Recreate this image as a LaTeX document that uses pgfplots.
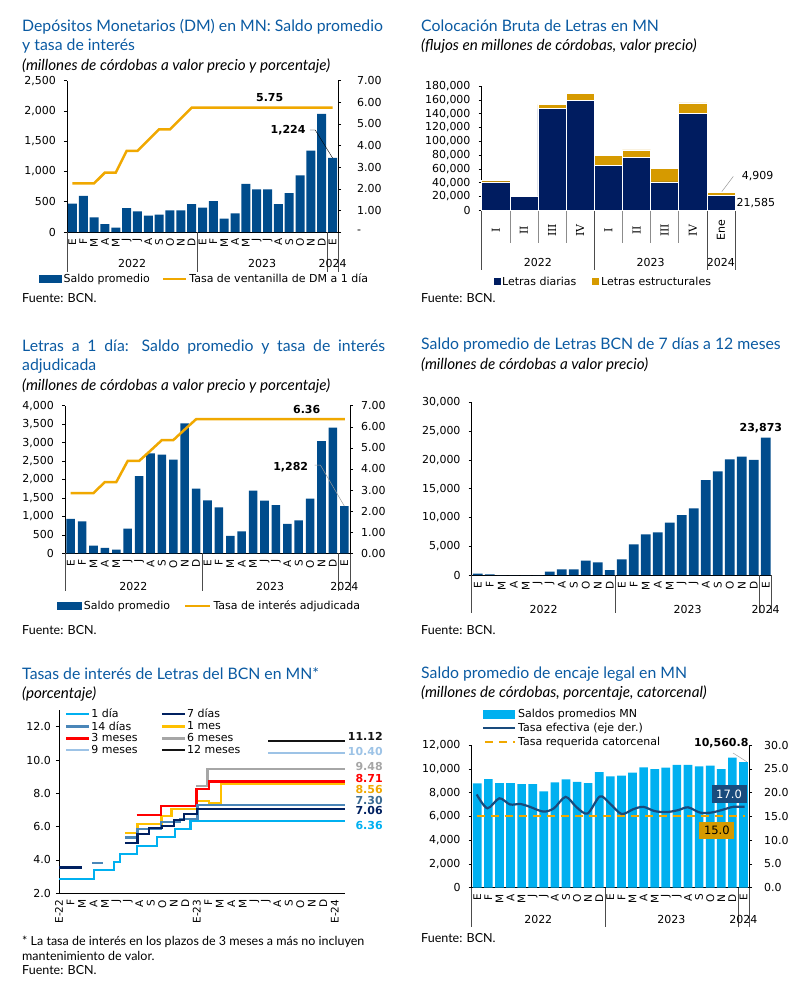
\documentclass[border=0pt]{standalone}
\usepackage{fontspec}
\setmainfont{Lato}
\newfontfamily\vf{DejaVu Sans}
\newfontfamily\vsf{DejaVu Serif}
\usepackage{pgfplots}
\pgfplotsset{compat=1.18}

\definecolor{titleblue}{RGB}{10,90,162}
\definecolor{barb}{RGB}{0,76,140}
\definecolor{gold}{RGB}{240,168,0}
\definecolor{navy}{RGB}{0,28,96}
\definecolor{ocre}{RGB}{214,154,0}
\definecolor{cyanb}{RGB}{0,176,240}
\definecolor{effl}{RGB}{25,75,125}
\definecolor{cA}{RGB}{0,176,240}
\definecolor{cB}{RGB}{0,32,96}
\definecolor{cC}{RGB}{74,134,184}
\definecolor{cD}{RGB}{255,192,0}
\definecolor{cE}{RGB}{255,0,0}
\definecolor{cF}{RGB}{166,166,166}
\definecolor{cG}{RGB}{157,195,230}
\definecolor{cH}{RGB}{20,20,20}

\tikzset{
  ttl/.style={anchor=base west, inner sep=0pt, text=titleblue, font=\fontsize{15.8}{18}\selectfont},
  sub/.style={anchor=base west, inner sep=0pt, font=\itshape\fontsize{15.2}{17}\selectfont},
  src/.style={anchor=base west, inner sep=0pt, font=\fontsize{12.5}{14}\selectfont},
  lbl/.style={inner sep=0pt, font=\vf\bfseries\fontsize{11}{12}\selectfont},
  sep/.style={draw=black!70, line width=0.6pt},
  sepl/.style={draw=black!45, line width=0.6pt},
  yr/.style={anchor=base, inner sep=0pt, font=\vf\fontsize{11}{12}\selectfont},
}

\pgfplotsset{
  base/.style={scale only axis, clip=false, anchor=south west, enlargelimits=false,
    scaled ticks=false, axis line style={line width=0.6pt}, major tick length=3pt,
    tick align=outside, tick style={black, line width=0.5pt},
    ticklabel style={font=\vf\fontsize{11}{12}\selectfont},
    y tick label style={inner xsep=8pt},
    /pgf/number format/assume math mode=true, /pgf/number format/fixed,
    /pgf/number format/1000 sep={,}},
  months/.style={xmin=-0.5, xmax=24.5, xtick={0,...,24},
    xticklabels={E,F,M,A,M,J,J,A,S,O,N,D,E,F,M,A,M,J,J,A,S,O,N,D,E},
    x tick label style={rotate=90, anchor=east, font=\vf\fontsize{10.5}{11}\selectfont},
    xtick style={draw=none}},
  leg/.style={legend cell align=left,
    legend style={draw=none, fill=none, font=\vf\fontsize{11}{12}\selectfont}},
  pct2/.style={yticklabel style={/pgf/number format/fixed, /pgf/number format/fixed zerofill, /pgf/number format/precision=2}},
  pct1/.style={yticklabel style={/pgf/number format/fixed, /pgf/number format/fixed zerofill, /pgf/number format/precision=1}},
}

\begin{document}
\begin{tikzpicture}
\path[use as bounding box] (0pt,0pt) rectangle (794pt,-993pt);

\begin{scope}[x=1pt, y=-1pt]
% panel texts
\node[ttl] at (22,31) {Depósitos Monetarios (DM) en MN: Saldo promedio};
\node[ttl] at (22,50.7) {y tasa de interés};
\node[sub] at (22,70.7) {(millones de córdobas a valor precio y porcentaje)};
\node[src] at (22,302) {Fuente: BCN.};

\node[ttl] at (421,31) {Colocación Bruta de Letras en MN};
\node[sub] at (421,50) {(flujos en millones de córdobas, valor precio)};
\node[src] at (421,302) {Fuente: BCN.};

\node[ttl] at (22,351) {\makebox[363pt][s]{Letras a 1 día: Saldo promedio y tasa de interés}};
\node[ttl] at (22,370) {adjudicada};
\node[sub] at (22,390) {(millones de córdobas a valor precio y porcentaje)};
\node[src] at (22,634) {Fuente: BCN.};

\node[ttl] at (421,349) {Saldo promedio de Letras BCN de 7 días a 12 meses};
\node[sub] at (421,369) {(millones de córdobas a valor precio)};
\node[src] at (421,634) {Fuente: BCN.};

\node[ttl] at (22,679) {Tasas de interés de Letras del BCN en MN*};
\node[sub] at (22,698) {(porcentaje)};
\node[src] at (22,945) {* La tasa de interés en los plazos de 3 meses a más no incluyen};
\node[src] at (22,960) {mantenimiento de valor.};
\node[src] at (22,974) {Fuente: BCN.};

\node[ttl] at (421,678) {Saldo promedio de encaje legal en MN};
\node[sub] at (421,697) {(millones de córdobas, porcentaje, catorcenal)};
\node[src] at (421,942) {Fuente: BCN.};
\end{scope}

% ---------- Panel 1: Depositos monetarios
\begin{axis}[base, months, leg, at={(67pt,-232pt)}, width=271pt, height=151.3pt,
  ymin=0, ymax=2500, ytick={0,500,...,2500},
  axis x line*=bottom, axis y line*=left, ybar, bar width=0.83,
  legend columns=2,
  legend style={at={(0.507,-0.31)}, anchor=center, /tikz/every even column/.append style={column sep=10pt}}]
\addplot[fill=barb, draw=none, legend image code/.code={\fill[barb] (0pt,-4pt) rectangle (23pt,4pt);}]
  coordinates {(0,467)(1,599)(2,242)(3,132)(4,71)(5,396)(6,341)(7,269)(8,286)(9,357)(10,357)(11,462)
  (12,401)(13,511)(14,220)(15,308)(16,797)(17,703)(18,703)(19,462)(20,643)(21,934)(22,1346)(23,1951)(24,1224)};
\addlegendentry{Saldo promedio}
\addlegendimage{legend image code/.code={\draw[gold, line width=2.5pt] (0pt,0pt) -- (23pt,0pt);}}
\addlegendentry{Tasa de ventanilla de DM a 1 día}
\draw[sep] (axis cs:-0.5,0) -- ++(0pt,-40pt);
\draw[sep] (axis cs:11.5,0) -- ++(0pt,-40pt);
\draw[sep] (axis cs:23.5,0) -- ++(0pt,-40pt);
\draw[sep] (axis cs:24.5,0) -- ++(0pt,-40pt);
\node[yr] at ([yshift=-35pt]axis cs:5.5,0) {2022};
\node[yr] at ([yshift=-35pt]axis cs:17.5,0) {2023};
\node[yr] at ([yshift=-35pt]axis cs:24,0) {2024};
\node[lbl] at (axis cs:19.9,1685) {1,224};
\draw[black, line width=0.4pt] (axis cs:21.9,1685) -- (axis cs:22.4,1685) -- (axis cs:24,1224);
\end{axis}
\begin{axis}[base, at={(67pt,-232pt)}, width=271pt, height=151.3pt,
  xmin=-0.5, xmax=24.5, ymin=0, ymax=7, ytick={0,...,7},
  yticklabels={-,1.00,2.00,3.00,4.00,5.00,6.00,7.00},
  y tick label style={xshift=8pt},
  axis y line*=right, axis x line=none]
\addplot[gold, line width=2.5pt] coordinates {(0,2.25)(1,2.25)(2,2.25)(3,2.75)(4,2.75)(5,3.75)(6,3.75)(7,4.25)
  (8,4.75)(9,4.75)(10,5.25)(11,5.75)(12,5.75)(13,5.75)(14,5.75)(15,5.75)(16,5.75)(17,5.75)(18,5.75)
  (19,5.75)(20,5.75)(21,5.75)(22,5.75)(23,5.75)(24,5.75)};
\node[lbl] at (axis cs:18.2,6.21) {5.75};
\end{axis}

% ---------- Panel 2: Colocacion bruta
\begin{axis}[base, leg, at={(481.7pt,-210.3pt)}, width=253.3pt, height=124.3pt,
  xmin=-0.5, xmax=8.5, ymin=0, ymax=180000, ytick={0,20000,...,180000},
  axis x line*=bottom, axis y line*=left, ybar stacked, bar width=1,
  xtick={0,...,8}, xtick style={draw=none},
  xticklabels={{\vsf I},{\vsf II},{\vsf III},{\vsf IV},{\vsf I},{\vsf II},{\vsf III},{\vsf IV},Ene},
  x tick label style={yshift=-17pt, rotate=90, anchor=center, font=\vf\fontsize{11}{12}\selectfont},
  legend columns=2,
  legend style={at={(0.48,-0.574)}, anchor=center, /tikz/every even column/.append style={column sep=14pt}}]
\addplot[fill=navy, draw=white, line width=0.6pt, legend image code/.code={\fill[navy] (0pt,-3pt) rectangle (6pt,3pt);}]
  coordinates {(0,41000)(1,19800)(2,147200)(3,158800)(4,65200)(5,76700)(6,41000)(7,140400)(8,21585)};
\addlegendentry{Letras diarias}
\addplot[fill=ocre, draw=white, line width=0.6pt, legend image code/.code={\fill[ocre] (0pt,-3pt) rectangle (6pt,3pt);}]
  coordinates {(0,2400)(1,0)(2,6300)(3,10600)(4,14400)(5,10700)(6,19800)(7,15000)(8,4909)};
\addlegendentry{Letras estructurales}
\draw[sepl] (axis cs:0.5,0) -- ++(0pt,-33pt);
\draw[sepl] (axis cs:1.5,0) -- ++(0pt,-33pt);
\draw[sepl] (axis cs:2.5,0) -- ++(0pt,-33pt);
\draw[sepl] (axis cs:4.5,0) -- ++(0pt,-33pt);
\draw[sepl] (axis cs:5.5,0) -- ++(0pt,-33pt);
\draw[sepl] (axis cs:6.5,0) -- ++(0pt,-33pt);
\draw[sep] (axis cs:-0.5,0) -- ++(0pt,-60pt);
\draw[sep] (axis cs:3.5,0) -- ++(0pt,-60pt);
\draw[sep] (axis cs:7.5,0) -- ++(0pt,-60pt);
\draw[sep] (axis cs:8.5,0) -- ++(0pt,-60pt);
\node[yr] at ([yshift=-56pt]axis cs:1.5,0) {2022};
\node[yr] at ([yshift=-56pt]axis cs:5.5,0) {2023};
\node[yr] at ([yshift=-56pt]axis cs:8,0) {2024};
\node[inner sep=0pt, font=\vf\fontsize{11}{12}\selectfont] at (axis cs:9.3,49670) {4,909};
\draw[black!40, line width=0.5pt] (axis cs:8.03,26935) -- (axis cs:8.44,49090);
\node[inner sep=0pt, font=\vf\fontsize{11}{12}\selectfont] at (axis cs:9.24,11000) {21,585};
\end{axis}

% ---------- Panel 3: Letras a 1 dia
\begin{axis}[base, months, leg, at={(65pt,-553.3pt)}, width=285pt, height=147.6pt,
  ymin=0, ymax=4000, ytick={0,500,...,4000},
  axis x line*=bottom, axis y line*=left, ybar, bar width=0.75,
  legend columns=2,
  legend style={at={(0.507,-0.357)}, anchor=center, /tikz/every even column/.append style={column sep=12pt}}]
\addplot[fill=barb, draw=none, legend image code/.code={\fill[barb] (0pt,-4pt) rectangle (25pt,4pt);}]
  coordinates {(0,935)(1,867)(2,208)(3,144)(4,100)(5,668)(6,2095)(7,2709)(8,2673)(9,2537)(10,3521)(11,1752)
  (12,1436)(13,1246)(14,470)(15,596)(16,1698)(17,1427)(18,1309)(19,795)(20,894)(21,1481)(22,3043)(23,3404)(24,1282)};
\addlegendentry{Saldo promedio}
\addlegendimage{legend image code/.code={\draw[gold, line width=2.5pt] (0pt,0pt) -- (25pt,0pt);}}
\addlegendentry{Tasa de interés adjudicada}
\draw[sep] (axis cs:-0.5,0) -- ++(0pt,-38pt);
\draw[sep] (axis cs:11.5,0) -- ++(0pt,-38pt);
\draw[sep] (axis cs:23.5,0) -- ++(0pt,-38pt);
\draw[sep] (axis cs:24.5,0) -- ++(0pt,-38pt);
\node[yr] at ([yshift=-37pt]axis cs:5.5,0) {2022};
\node[yr] at ([yshift=-37pt]axis cs:17.5,0) {2023};
\node[yr] at ([yshift=-37pt]axis cs:24,0) {2024};
\node[lbl] at (axis cs:19.3,2347) {1,282};
\draw[black!40, line width=0.5pt] (axis cs:21.4,2393) -- (axis cs:21.9,2393) -- (axis cs:24,1282);
\end{axis}
\begin{axis}[base, pct2, at={(65pt,-553.3pt)}, width=285pt, height=147.6pt,
  xmin=-0.5, xmax=24.5, ymin=0, ymax=7, ytick={0,...,7},
  axis y line*=right, axis x line=none]
\addplot[gold, line width=2.5pt] coordinates {(0,2.86)(1,2.86)(2,2.86)(3,3.38)(4,3.38)(5,4.38)(6,4.38)(7,4.87)
  (8,5.37)(9,5.37)(10,5.87)(11,6.36)(12,6.36)(13,6.36)(14,6.36)(15,6.36)(16,6.36)(17,6.36)(18,6.36)
  (19,6.36)(20,6.36)(21,6.36)(22,6.36)(23,6.36)(24.06,6.36)};
\node[lbl] at (axis cs:20.7,6.80) {6.36};
\end{axis}

% ---------- Panel 4: Letras 7 dias a 12 meses
\begin{axis}[base, months, at={(471.7pt,-575pt)}, width=300pt, height=172.7pt,
  ymin=0, ymax=30000, ytick={0,5000,...,30000},
  axis x line*=bottom, axis y line*=left, ybar, bar width=0.8]
\addplot[fill=barb, draw=none]
  coordinates {(0,230)(1,100)(2,0)(3,0)(4,0)(5,0)(6,580)(7,985)(8,985)(9,2490)(10,2200)(11,870)
  (12,2720)(13,5330)(14,7065)(15,7410)(16,9090)(17,10420)(18,11580)(19,16500)(20,18010)(21,20090)(22,20560)(23,19980)(24,23873)};
\draw[sep] (axis cs:-0.5,0) -- ++(0pt,-38pt);
\draw[sep] (axis cs:11.5,0) -- ++(0pt,-38pt);
\draw[sep] (axis cs:23.5,0) -- ++(0pt,-38pt);
\draw[sep] (axis cs:24.5,0) -- ++(0pt,-38pt);
\node[yr] at ([yshift=-38pt]axis cs:5.5,0) {2022};
\node[yr] at ([yshift=-38pt]axis cs:17.5,0) {2023};
\node[yr] at ([yshift=-38pt]axis cs:24,0) {2024};
\node[lbl] at (axis cs:23.6,25588) {23,873};
\end{axis}

% ---------- Panel 5: Tasas de Letras
\begin{axis}[base, pct1, at={(59pt,-893.3pt)}, width=286pt, height=183.3pt,
  xmin=0, xmax=24.9, ymin=2, ymax=13, ytick={2,4,...,12},
  y tick label style={inner xsep=5pt},
  axis x line*=bottom, axis y line*=left,
  xtick={0,...,24}, xtick style={draw=none},
  xticklabels={E-22,F,M,A,M,J,J,A,S,O,N,D,E-23,F,M,A,M,J,J,A,S,O,N,D,E-24},
  x tick label style={rotate=90, anchor=east, font=\vf\fontsize{10.5}{11}\selectfont},
  leg, legend columns=2,
  legend style={at={(0.02,1.012)}, anchor=north west, inner sep=0pt,
    nodes={inner sep=1pt}, /tikz/every even column/.append style={column sep=22pt}}]
\addlegendimage{legend image code/.code={\draw[cA, line width=2.5pt] (0pt,0pt) -- (23pt,0pt);}}
\addlegendimage{legend image code/.code={\draw[cB, line width=2.5pt] (0pt,0pt) -- (23pt,0pt);}}
\addlegendimage{legend image code/.code={\draw[cC, line width=2.5pt] (0pt,0pt) -- (23pt,0pt);}}
\addlegendimage{legend image code/.code={\draw[cD, line width=2.5pt] (0pt,0pt) -- (23pt,0pt);}}
\addlegendimage{legend image code/.code={\draw[cE, line width=2.5pt] (0pt,0pt) -- (23pt,0pt);}}
\addlegendimage{legend image code/.code={\draw[cF, line width=2.5pt] (0pt,0pt) -- (23pt,0pt);}}
\addlegendimage{legend image code/.code={\draw[cG, line width=2.5pt] (0pt,0pt) -- (23pt,0pt);}}
\addlegendimage{legend image code/.code={\draw[cH, line width=2.5pt] (0pt,0pt) -- (23pt,0pt);}}
\legend{1 día,7 días,14 días,1 mes,3 meses,6 meses,9 meses,12 meses}
\addplot[forget plot, cG, line width=2.2pt] coordinates {(18.2,10.40)(24.9,10.40)};
\addplot[forget plot, cH, line width=2.2pt] coordinates {(18.2,11.12)(24.9,11.12)};
\addplot[forget plot, cF, line width=2.2pt, const plot mark left] coordinates {(11.97,8.46)(12.93,9.48)(24.9,9.48)};
\addplot[forget plot, cD, line width=2.2pt, const plot mark left] coordinates {(5.74,5.64)(6.84,6.14)(8.93,6.64)(9.8,7.04)(12.0,7.56)(13.04,7.44)(14.09,8.56)(24.9,8.56)};
\addplot[forget plot, cE, line width=2.2pt, const plot mark left] coordinates {(6.76,6.72)(8.9,7.24)(11.97,8.24)(13.04,8.71)(24.9,8.71)};
\addplot[forget plot, cC, line width=2.2pt] coordinates {(2.9,3.83)(3.85,3.83)};
\addplot[forget plot, cC, line width=2.2pt, const plot mark left] coordinates {(5.74,5.35)(6.84,5.85)(8.9,6.3)(10.5,6.45)(12.05,7.30)(24.9,7.30)};
\addplot[forget plot, cB, line width=2.2pt] coordinates {(0,3.55)(2.03,3.55)};
\addplot[forget plot, cB, line width=2.2pt, const plot mark left] coordinates {(5.74,5.04)(6.84,5.54)(7.85,5.9)(9.0,6.05)(10.0,6.4)(10.9,6.75)(12.0,7.06)(24.9,7.06)};
\addplot[forget plot, cA, line width=2.2pt, const plot mark left] coordinates {(0,2.86)(3.04,3.38)(4.8,3.88)(5.3,4.36)(6.76,4.86)(8.5,5.36)(10.09,5.86)(11.45,6.36)(24.9,6.36)};
\node[lbl, anchor=east, text=cH] at (axis cs:28.2,11.4) {11.12};
\node[lbl, anchor=east, text=cG] at (axis cs:28.2,10.5) {10.40};
\node[lbl, anchor=east, text=cF] at (axis cs:28.2,9.6) {9.48};
\node[lbl, anchor=east, text=cE] at (axis cs:28.2,8.9) {8.71};
\node[lbl, anchor=east, text=gold] at (axis cs:28.2,8.24) {8.56};
\node[lbl, anchor=east, text=cC!80!black] at (axis cs:28.2,7.56) {7.30};
\node[lbl, anchor=east, text=cB] at (axis cs:28.2,6.94) {7.06};
\node[lbl, anchor=east, text=cA] at (axis cs:28.2,6.06) {6.36};
\end{axis}

% ---------- Panel 6: Encaje legal
\begin{axis}[base, months, leg, at={(471.7pt,-887.7pt)}, width=277.3pt, height=142.7pt,
  ymin=0, ymax=12000, ytick={0,2000,...,12000},
  axis x line*=bottom, axis y line*=left, ybar, bar width=0.78,
  legend style={at={(0.036,1.265)}, anchor=north west, inner sep=0pt, nodes={inner sep=2pt}}]
\addplot[fill=cyanb, draw=none, legend image code/.code={\fill[cyanb] (0pt,-4.5pt) rectangle (32pt,4.5pt);}]
  coordinates {(0,8775)(1,9140)(2,8800)(3,8800)(4,8720)(5,8720)(6,8100)(7,8860)(8,9110)(9,8890)(10,8800)(11,9730)
  (12,9365)(13,9420)(14,9670)(15,10120)(16,9980)(17,10090)(18,10320)(19,10320)(20,10200)(21,10260)(22,9980)(23,10930)(24,10560.8)};
\addlegendentry{Saldos promedios MN}
\addlegendimage{legend image code/.code={\draw[effl, line width=2.3pt] (0pt,0pt) -- (32pt,0pt);}}
\addlegendentry{Tasa efectiva (eje der.)}
\addlegendimage{legend image code/.code={\draw[gold, line width=2.3pt, dash pattern=on 8pt off 6pt] (2pt,0pt) -- (32pt,0pt);}}
\addlegendentry{Tasa requerida catorcenal}
\draw[sep] (axis cs:-0.5,0) -- ++(0pt,-39pt);
\draw[sep] (axis cs:11.5,0) -- ++(0pt,-39pt);
\draw[sep] (axis cs:23.5,0) -- ++(0pt,-39pt);
\draw[sep] (axis cs:24.5,0) -- ++(0pt,-39pt);
\node[yr] at ([yshift=-36pt]axis cs:5.5,0) {2022};
\node[yr] at ([yshift=-36pt]axis cs:17.5,0) {2023};
\node[yr] at ([yshift=-36pt]axis cs:24,0) {2024};
\node[lbl] at (axis cs:22.0,12193) {10,560.8};
\draw[black!35, line width=0.5pt] (axis cs:23.06,11327) -- (axis cs:24.3,10595);
\end{axis}
\begin{axis}[base, pct1, at={(471.7pt,-887.7pt)}, width=277.3pt, height=142.7pt,
  xmin=-0.5, xmax=24.5, ymin=0, ymax=30, ytick={0,5,...,30},
  y tick label style={xshift=4pt},
  axis y line*=right, axis x line=none]
\addplot[gold, line width=2.2pt, dash pattern=on 8pt off 6pt] coordinates {(-0.05,15)(24.1,15)};
\addplot[effl, line width=2.2pt, smooth, tension=0.5] coordinates {(-0.05,19.6)(0.91,16.7)(1.99,18.8)(2.95,17.5)(3.91,17.6)(4.75,17.0)
  (5.96,16.0)(6.92,16.7)(7.97,19.1)(8.96,16.9)(9.95,15.6)(11.06,19.2)(11.96,17.7)(13.01,15.5)(14.06,16.5)(14.97,17.0)
  (16.0,16.1)(17.07,15.9)(18.1,16.3)(19.0,16.9)(20.07,15.8)(21.1,15.8)(22.0,16.3)(23.07,17.0)(24.1,17.0)};
\node[fill=effl, text=white, inner sep=0pt, minimum width=35pt, minimum height=18pt, font=\vf\fontsize{11.5}{12}\selectfont] at (axis cs:22.7,19.7) {17.0};
\node[fill=ocre, text=black, inner sep=0pt, minimum width=35pt, minimum height=17pt, font=\vf\fontsize{11.5}{12}\selectfont] at (axis cs:21.6,12.13) {15.0};
\end{axis}
\end{tikzpicture}
\end{document}
